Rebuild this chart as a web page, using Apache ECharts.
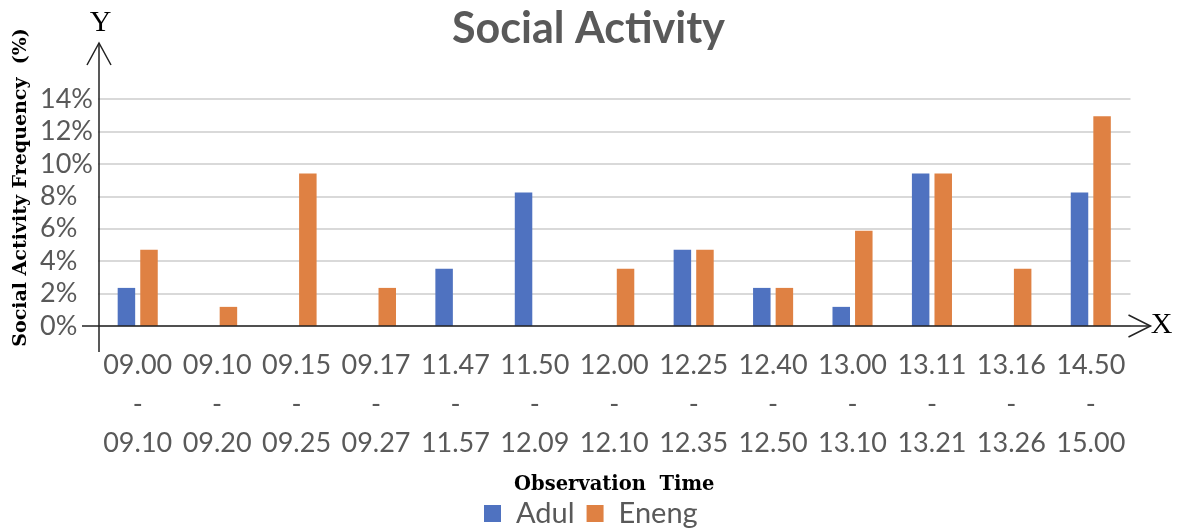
<!DOCTYPE html>
<html>
<head>
<meta charset="utf-8">
<script src="https://cdn.jsdelivr.net/npm/echarts@6/dist/echarts.min.js"></script>
<style>
  html, body { margin: 0; padding: 0; background: #ffffff; }
  #chart { width: 1177px; height: 529px; }
</style>
</head>
<body>
<div id="chart"></div>
<script>
// Observation windows (start / end of each interval)
const startTimes = ['09.00','09.10','09.15','09.17','11.47','11.50','12.00','12.25','12.40','13.00','13.11','13.16','14.50'];
const endTimes   = ['09.10','09.20','09.25','09.27','11.57','12.09','12.10','12.35','12.50','13.10','13.21','13.26','15.00'];

// Social activity frequency (%) per individual
const adulValues  = [2.35, 0, 0, 0, 3.53, 8.24, 0, 4.71, 2.35, 1.18, 9.41, 0, 8.24];
const enengValues = [4.71, 1.18, 9.41, 2.35, 0, 0, 3.53, 4.71, 2.35, 5.88, 9.41, 3.53, 12.94];

// Value axis ticks
const yMin = 0, yMax = 14, yStep = 2;

const seriesNames = ['Adul', 'Eneng'];

const categories = startTimes.map((s, i) => s + '\n-\n' + endTimes[i]);

const GRID = { left: 98, right: 46.5, top: 99, bottom: 203 };
const LABEL_FONT = 'Lato, "Open Sans", sans-serif';
const GREY = '#595959';

const chart = echarts.init(document.getElementById('chart'), null, { renderer: 'canvas' });

const option = {
  animation: false,
  backgroundColor: '#ffffff',
  title: {
    text: 'Social Activity',
    left: 'center',
    top: 3,
    textStyle: { fontFamily: LABEL_FONT, fontWeight: 'bold', fontSize: 43, color: GREY }
  },
  legend: {
    data: seriesNames,
    left: 484,
    top: 499,
    padding: 0,
    icon: 'rect',
    itemWidth: 17,
    itemHeight: 17,
    itemGap: 12,
    textStyle: { fontFamily: LABEL_FONT, fontSize: 29, color: GREY, padding: [0, 0, 0, 10] }
  },
  grid: GRID,
  xAxis: {
    type: 'category',
    data: categories,
    axisLine: { show: false },
    axisTick: { show: false },
    axisLabel: {
      interval: 0,
      margin: 20,
      fontFamily: LABEL_FONT,
      fontSize: 27,
      lineHeight: 39,
      color: GREY
    },
    name: 'Observation  Time',
    nameLocation: 'middle',
    nameGap: 149,
    nameTextStyle: { fontFamily: '"DejaVu Serif", serif', fontWeight: 'bold', fontSize: 19.5, color: '#000' }
  },
  yAxis: {
    type: 'value',
    min: yMin,
    max: yMax,
    interval: yStep,
    axisLine: { show: false },
    axisTick: { show: false },
    splitLine: { lineStyle: { color: '#d9d9d9', width: 2 } },
    axisLabel: {
      align: 'left',
      margin: 58,
      fontFamily: LABEL_FONT,
      fontSize: 27,
      color: GREY,
      formatter: v => v + '%'
    }
  },
  series: [
    {
      name: seriesNames[0],
      type: 'bar',
      data: adulValues,
      barWidth: 17.5,
      barGap: '29%',
      itemStyle: { color: '#4f72c0' }
    },
    {
      name: seriesNames[1],
      type: 'bar',
      data: enengValues,
      barWidth: 17.5,
      barGap: '29%',
      itemStyle: { color: '#df8143' }
    }
  ]
};

chart.setOption(option);

// Hand-drawn style axes: open chevron arrows on both axes, plus the Y / X letters
function drawAxes() {
  const zeroY = chart.convertToPixel({ yAxisIndex: 0 }, 0);
  const axisX = GRID.left + 1;
  const rightEnd = 1177 - GRID.right + 20;
  const topEnd = 43;
  const lineStyle = { stroke: '#222', lineWidth: 1.5, fill: null };
  chart.setOption({
    graphic: [
      { type: 'line', shape: { x1: axisX, y1: topEnd, x2: axisX, y2: zeroY + 26 }, style: lineStyle, z: 10 },
      { type: 'polyline', shape: { points: [[axisX - 12, topEnd + 22], [axisX, topEnd], [axisX + 12, topEnd + 22]] }, style: lineStyle, z: 10 },
      { type: 'line', shape: { x1: axisX - 17, y1: zeroY, x2: rightEnd, y2: zeroY }, style: lineStyle, z: 10 },
      { type: 'polyline', shape: { points: [[rightEnd - 22, zeroY - 11], [rightEnd, zeroY], [rightEnd - 22, zeroY + 11]] }, style: lineStyle, z: 10 },
      { type: 'text', x: axisX + 1.5, y: 23, style: { text: 'Y', font: '30px "Liberation Serif", serif', fill: '#000', textAlign: 'center', textVerticalAlign: 'middle' }, z: 10 },
      { type: 'text', x: rightEnd + 11, y: zeroY - 1, style: { text: 'X', font: '30px "Liberation Serif", serif', fill: '#000', textAlign: 'center', textVerticalAlign: 'middle' }, z: 10 },
      { type: 'text', x: 21.5, y: 187.5, rotation: Math.PI / 2, style: { text: 'Social Activity Frequency  (%)', font: 'bold 19px "DejaVu Serif", serif', fill: '#000', textAlign: 'center', textVerticalAlign: 'middle' }, z: 10 }
    ]
  });
}
drawAxes();
</script>
</body>
</html>
